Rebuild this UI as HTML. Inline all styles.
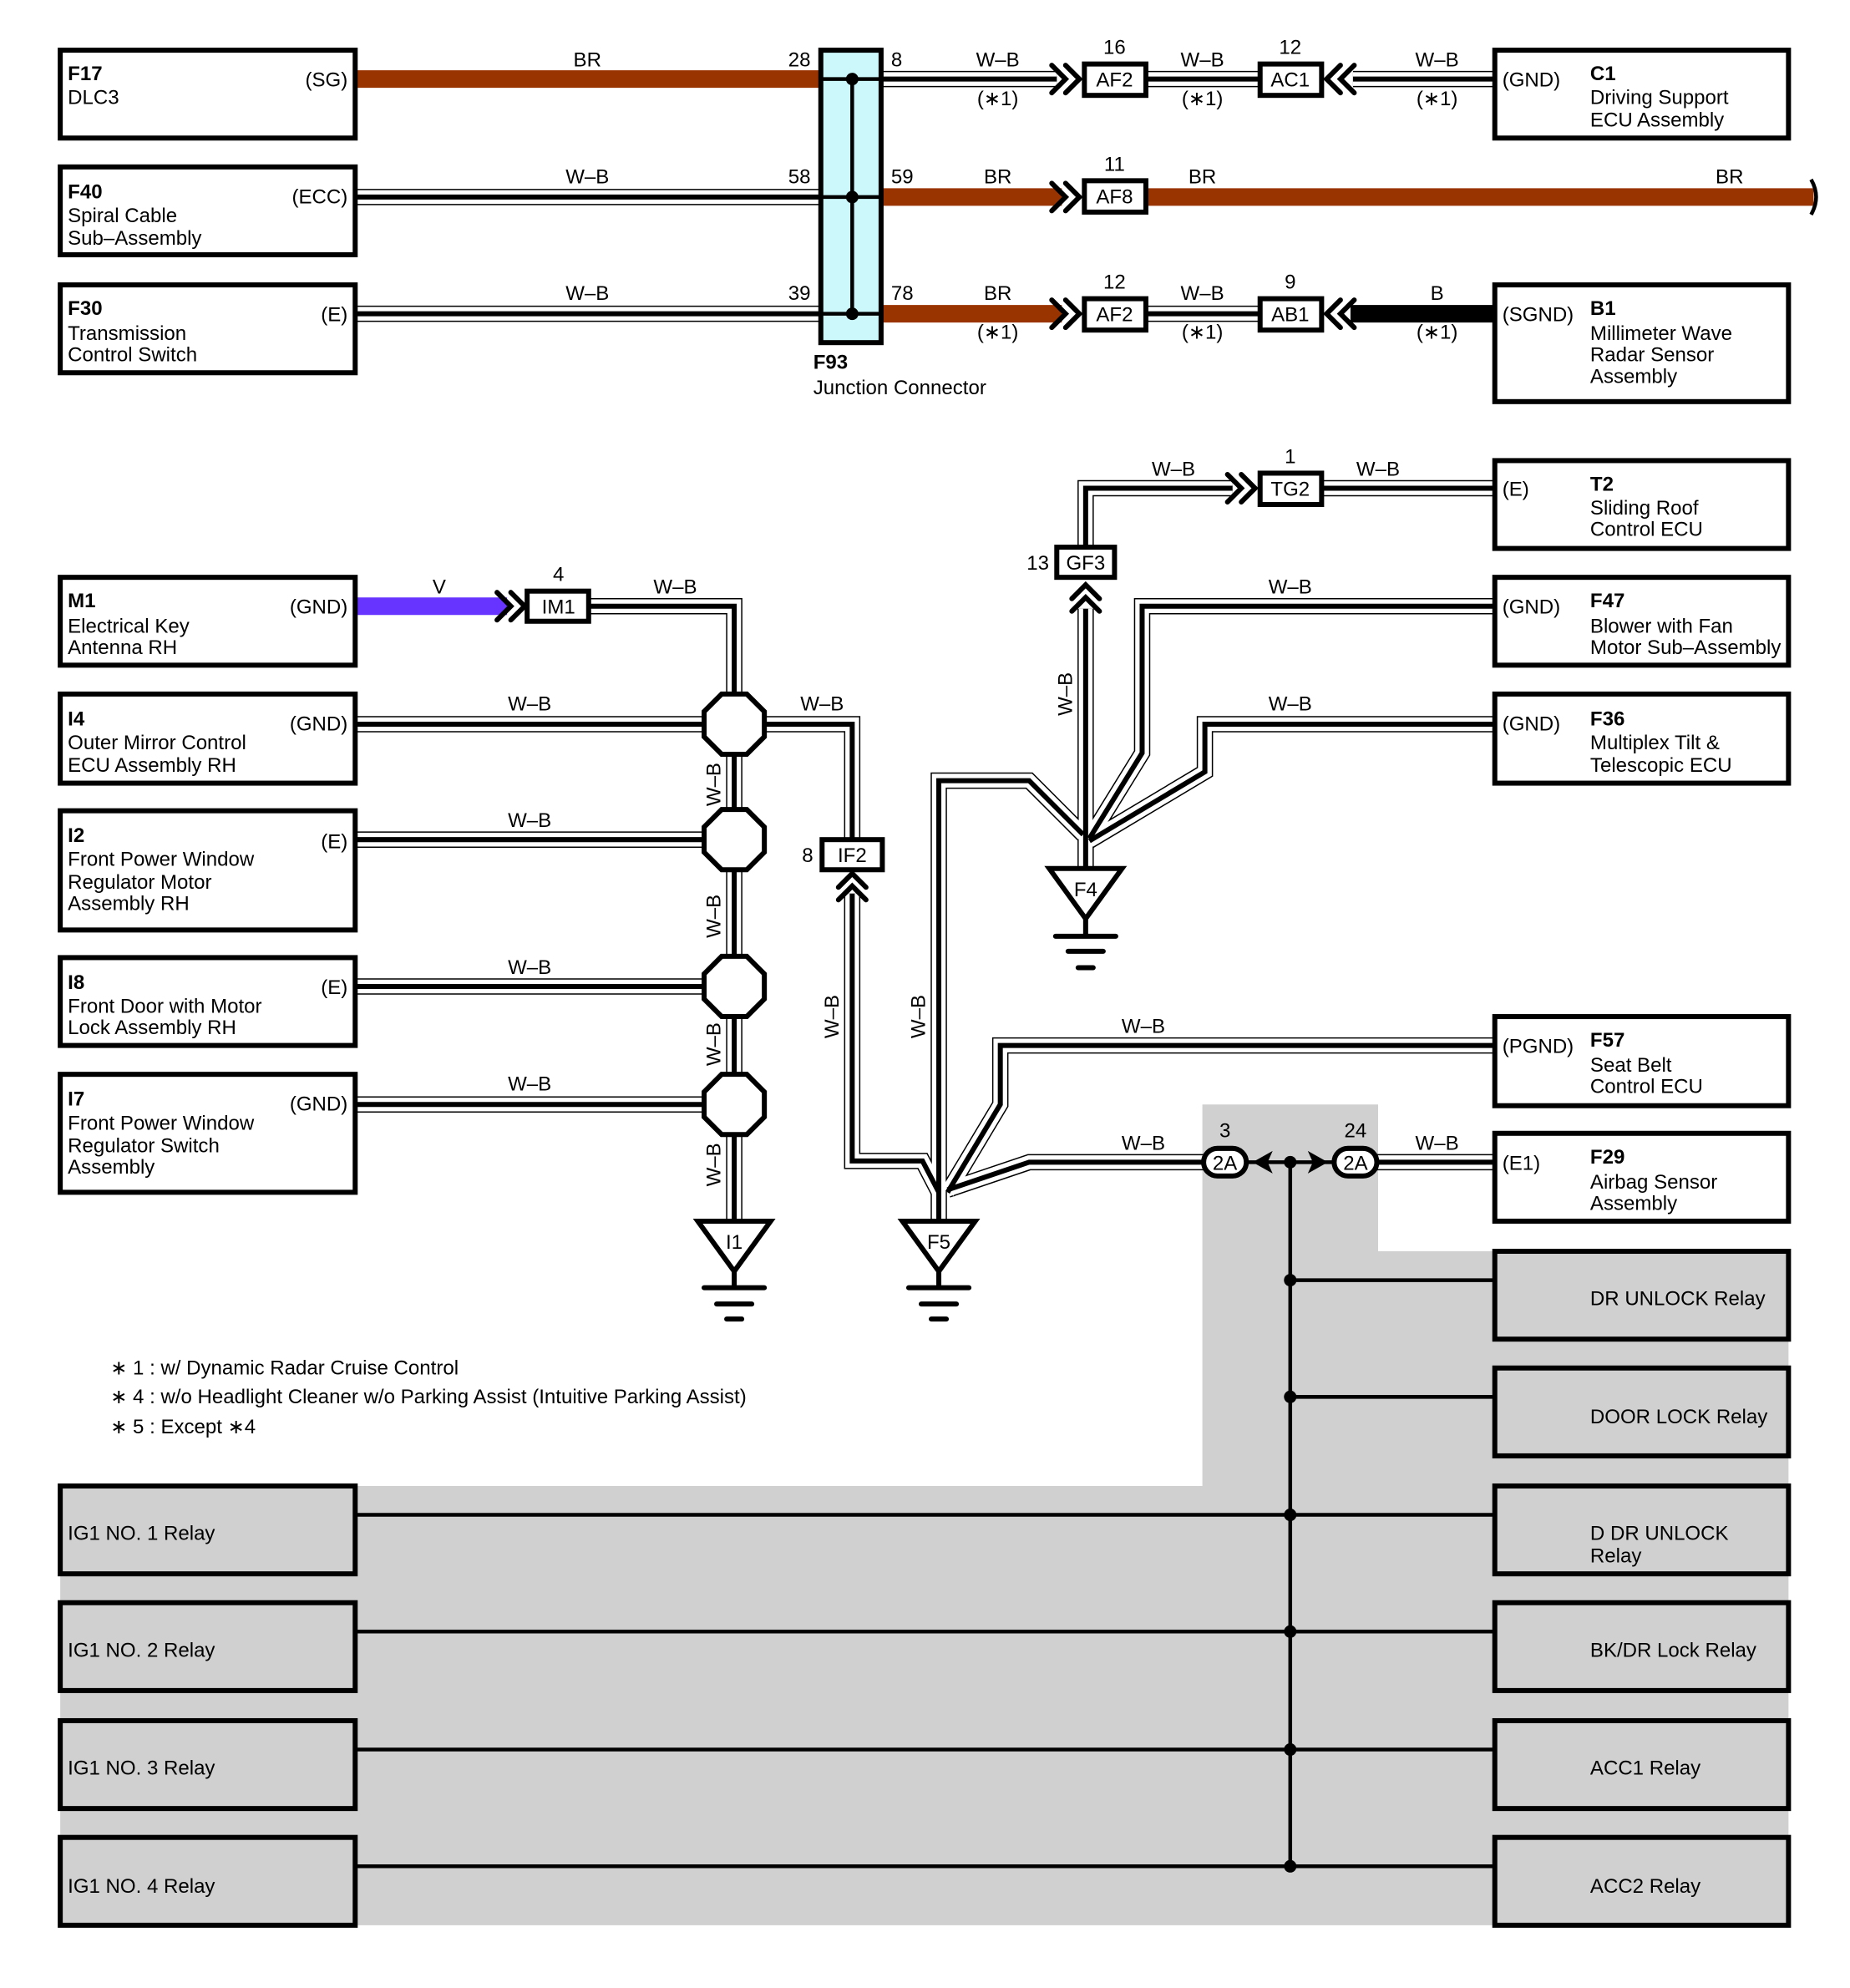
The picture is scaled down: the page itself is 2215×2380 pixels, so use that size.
<!DOCTYPE html>
<html><head><meta charset="utf-8"><style>
html,body{margin:0;padding:0;background:#fff}
svg{display:block}
text{font-family:"Liberation Sans",Arial,sans-serif;font-size:16px;fill:#000}
.b{font-weight:bold}
</style></head><body>
<svg width="2215" height="2380" viewBox="0 0 1474 1584" preserveAspectRatio="none" xmlns="http://www.w3.org/2000/svg">
<defs>
<g id="wbs" fill="none">
<path d="M283,157 H654 M283,250 H654 M702,63 H842 M913,63 H1004 M1078,63 H1191 M913,250 H1004"/>
<path d="M865,436 V389 H982 M1053,389 H1191 M865,485 V692"/>
<path d="M1191,483 H910 V600 L868,668 M1191,577 H960 V615 L868,670"/>
<path d="M748,973 V622 H820 L863,665"/>
<path d="M470,483 H585 V973"/>
<path d="M283,577 H562 M283,669 H562 M283,786 H562 M283,880 H562"/>
<path d="M608,577 H679 V669 M679,712 V925 H735 L748,950"/>
<path d="M1191,833 H797 V880 L755,950 M960,926 H820 L755,948 M1097,926 H1191"/>
</g>
</defs>
<!-- gray region -->
<polygon points="958,880 1098,880 1098,997 1425,997 1425,1534 48,1534 48,1184 958,1184" fill="#d0d0d0"/>

<!-- W-B wires -->
<use href="#wbs" stroke="#000" stroke-width="13"/>
<use href="#wbs" stroke="#fff" stroke-width="11"/>
<use href="#wbs" stroke="#000" stroke-width="4"/>

<!-- BR, V, B wires -->
<g fill="none" stroke-width="14">
<path d="M283,63 H654 M702,157 H846 M913,157 H1445 M702,250 H846" stroke="#993300"/>
<path d="M283,483 H404" stroke="#6633ff"/>
<path d="M1076,250 H1191" stroke="#000"/>
</g>
<path d="M1443,143 q8,14 0,28" fill="none" stroke="#000" stroke-width="3"/>

<!-- F93 junction -->
<rect x="654" y="40" width="48" height="233" fill="#ccf8fc" stroke="#000" stroke-width="4"/>
<line x1="679" y1="63" x2="679" y2="250" stroke="#000" stroke-width="3"/>
<line x1="654" y1="63" x2="702" y2="63" stroke="#000" stroke-width="3"/>
<line x1="654" y1="157" x2="702" y2="157" stroke="#000" stroke-width="3"/>
<line x1="654" y1="250" x2="702" y2="250" stroke="#000" stroke-width="3"/>
<circle cx="679" cy="63" r="5"/><circle cx="679" cy="157" r="5"/><circle cx="679" cy="250" r="5"/>

<!-- chevrons -->
<g fill="none" stroke="#000" stroke-width="4" stroke-linecap="round">
<path d="M838,52 L849,63 L838,74 M849,52 L860,63 L849,74"/>
<path d="M838,146 L849,157 L838,168 M849,146 L860,157 L849,168"/>
<path d="M838,239 L849,250 L838,261 M849,239 L860,250 L849,261"/>
<path d="M1068,52 L1057,63 L1068,74 M1079,52 L1068,63 L1079,74"/>
<path d="M1068,239 L1057,250 L1068,261 M1079,239 L1068,250 L1079,261"/>
<path d="M978,378 L989,389 L978,400 M989,378 L1000,389 L989,400"/>
<path d="M396,472 L407,483 L396,494 M407,472 L418,483 L407,494"/>
<path d="M854,477 L865,466 L876,477 M854,487 L865,476 L876,487"/>
<path d="M668,707 L679,696 L690,707 M668,717 L679,706 L690,717"/>
</g>

<!-- connector boxes -->
<g fill="#fff" stroke="#000" stroke-width="4">
<rect x="864" y="51" width="49" height="25"/>
<rect x="1004" y="51" width="49" height="25"/>
<rect x="864" y="144" width="49" height="25"/>
<rect x="864" y="238" width="49" height="25"/>
<rect x="1004" y="238" width="49" height="25"/>
<rect x="1004" y="377" width="49" height="25"/>
<rect x="842" y="436" width="46" height="24"/>
<rect x="420" y="471" width="49" height="24"/>
<rect x="655" y="669" width="48" height="24"/>
</g>
<g text-anchor="middle">
<text x="888" y="69">AF2</text><text x="888" y="43">16</text>
<text x="1028" y="69">AC1</text><text x="1028" y="43">12</text>
<text x="888" y="162">AF8</text><text x="888" y="136">11</text>
<text x="888" y="256">AF2</text><text x="888" y="230">12</text>
<text x="1028" y="256">AB1</text><text x="1028" y="230">9</text>
<text x="1028" y="395">TG2</text><text x="1028" y="369">1</text>
<text x="865" y="454">GF3</text>
<text x="445" y="489">IM1</text><text x="445" y="463">4</text>
<text x="679" y="687">IF2</text>
</g>
<text x="818" y="454">13</text>
<text x="639" y="687">8</text>

<!-- splices -->
<g fill="#fff" stroke="#000" stroke-width="4">
<polygon points="575,553 595,553 609,567 609,587 595,601 575,601 561,587 561,567"/>
<polygon points="575,645 595,645 609,659 609,679 595,693 575,693 561,679 561,659"/>
<polygon points="575,762 595,762 609,776 609,796 595,810 575,810 561,796 561,776"/>
<polygon points="575,856 595,856 609,870 609,890 595,904 575,904 561,890 561,870"/>
</g>

<!-- grounds -->
<g stroke="#000" stroke-width="4" fill="#fff">
<polygon points="556,973 614,973 585,1013"/>
<polygon points="719,973 777,973 748,1013"/>
<polygon points="836,692 894,692 865,732"/>
</g>
<g stroke="#000" stroke-width="4" stroke-linecap="round">
<path d="M585,1013 V1026 M561,1026 H609 M571,1039 H599 M579,1051 H591"/>
<path d="M748,1013 V1026 M724,1026 H772 M734,1039 H762 M742,1051 H754"/>
<path d="M865,732 V746 M841,746 H889 M851,758 H879 M859,771 H871"/>
</g>
<g text-anchor="middle"><text x="585" y="995">I1</text><text x="748" y="995">F5</text><text x="865" y="714">F4</text></g>

<!-- 2A connectors and bus -->
<g stroke="#000" stroke-width="3">
<line x1="990" y1="926" x2="1066" y2="926"/>
<line x1="1028" y1="926" x2="1028" y2="1487"/>
<line x1="1028" y1="1020" x2="1191" y2="1020"/>
<line x1="1028" y1="1113" x2="1191" y2="1113"/>
<line x1="283" y1="1207" x2="1191" y2="1207"/>
<line x1="283" y1="1300" x2="1191" y2="1300"/>
<line x1="283" y1="1394" x2="1191" y2="1394"/>
<line x1="283" y1="1487" x2="1191" y2="1487"/>
</g>
<g fill="#000">
<circle cx="1028" cy="926" r="5"/><circle cx="1028" cy="1020" r="5"/><circle cx="1028" cy="1113" r="5"/>
<circle cx="1028" cy="1207" r="5"/><circle cx="1028" cy="1300" r="5"/><circle cx="1028" cy="1394" r="5"/><circle cx="1028" cy="1487" r="5"/>
<polygon points="998,926 1014,917 1010,926 1014,935"/>
<polygon points="1058,926 1042,917 1046,926 1042,935"/>
</g>
<g fill="#fff" stroke="#000" stroke-width="4">
<rect x="959" y="915" width="34" height="22" rx="11"/>
<rect x="1063" y="915" width="34" height="22" rx="11"/>
</g>
<g text-anchor="middle"><text x="976" y="932">2A</text><text x="1080" y="932">2A</text><text x="976" y="906">3</text><text x="1080" y="906">24</text></g>

<!-- component boxes -->
<g fill="#fff" stroke="#000" stroke-width="4">
<rect x="48" y="40" width="235" height="70"/>
<rect x="48" y="133" width="235" height="70"/>
<rect x="48" y="227" width="235" height="70"/>
<rect x="48" y="460" width="235" height="70"/>
<rect x="48" y="553" width="235" height="71"/>
<rect x="48" y="646" width="235" height="95"/>
<rect x="48" y="763" width="235" height="70"/>
<rect x="48" y="856" width="235" height="94"/>
<rect x="1191" y="40" width="234" height="70"/>
<rect x="1191" y="227" width="234" height="93"/>
<rect x="1191" y="367" width="234" height="70"/>
<rect x="1191" y="460" width="234" height="70"/>
<rect x="1191" y="553" width="234" height="71"/>
<rect x="1191" y="810" width="234" height="71"/>
<rect x="1191" y="903" width="234" height="70"/>
</g>
<g fill="#d0d0d0" stroke="#000" stroke-width="4">
<rect x="48" y="1184" width="235" height="70"/>
<rect x="48" y="1277" width="235" height="70"/>
<rect x="48" y="1371" width="235" height="70"/>
<rect x="48" y="1464" width="235" height="70"/>
<rect x="1191" y="997" width="234" height="70"/>
<rect x="1191" y="1090" width="234" height="70"/>
<rect x="1191" y="1184" width="234" height="70"/>
<rect x="1191" y="1277" width="234" height="70"/>
<rect x="1191" y="1371" width="234" height="70"/>
<rect x="1191" y="1464" width="234" height="70"/>
</g>

<!-- left box text -->
<text x="54" y="64" class="b">F17</text><text x="54" y="83">DLC3</text>
<text x="54" y="158" class="b">F40</text><text x="54" y="177">Spiral Cable</text><text x="54" y="195">Sub–Assembly</text>
<text x="54" y="251" class="b">F30</text><text x="54" y="271">Transmission</text><text x="54" y="288">Control Switch</text>
<text x="54" y="484" class="b">M1</text><text x="54" y="504">Electrical Key</text><text x="54" y="521">Antenna RH</text>
<text x="54" y="578" class="b">I4</text><text x="54" y="597">Outer Mirror Control</text><text x="54" y="615">ECU Assembly RH</text>
<text x="54" y="671" class="b">I2</text><text x="54" y="690">Front Power Window</text><text x="54" y="708">Regulator Motor</text><text x="54" y="725">Assembly RH</text>
<text x="54" y="788" class="b">I8</text><text x="54" y="807">Front Door with Motor</text><text x="54" y="824">Lock Assembly RH</text>
<text x="54" y="881" class="b">I7</text><text x="54" y="900">Front Power Window</text><text x="54" y="918">Regulator Switch</text><text x="54" y="935">Assembly</text>
<text x="54" y="1227">IG1 NO. 1 Relay</text>
<text x="54" y="1320">IG1 NO. 2 Relay</text>
<text x="54" y="1414">IG1 NO. 3 Relay</text>
<text x="54" y="1508">IG1 NO. 4 Relay</text>
<g text-anchor="end">
<text x="277" y="69">(SG)</text><text x="277" y="162">(ECC)</text><text x="277" y="256">(E)</text>
<text x="277" y="489">(GND)</text><text x="277" y="582">(GND)</text><text x="277" y="676">(E)</text>
<text x="277" y="792">(E)</text><text x="277" y="885">(GND)</text>
</g>

<!-- right box text -->
<text x="1197" y="69">(GND)</text><text x="1267" y="64" class="b">C1</text><text x="1267" y="83">Driving Support</text><text x="1267" y="101">ECU Assembly</text>
<text x="1197" y="256">(SGND)</text><text x="1267" y="251" class="b">B1</text><text x="1267" y="271">Millimeter Wave</text><text x="1267" y="288">Radar Sensor</text><text x="1267" y="305">Assembly</text>
<text x="1197" y="395">(E)</text><text x="1267" y="391" class="b">T2</text><text x="1267" y="410">Sliding Roof</text><text x="1267" y="427">Control ECU</text>
<text x="1197" y="489">(GND)</text><text x="1267" y="484" class="b">F47</text><text x="1267" y="504">Blower with Fan</text><text x="1267" y="521">Motor Sub–Assembly</text>
<text x="1197" y="582">(GND)</text><text x="1267" y="578" class="b">F36</text><text x="1267" y="597">Multiplex Tilt &amp;</text><text x="1267" y="615">Telescopic ECU</text>
<text x="1197" y="839">(PGND)</text><text x="1267" y="834" class="b">F57</text><text x="1267" y="854">Seat Belt</text><text x="1267" y="871">Control ECU</text>
<text x="1197" y="932">(E1)</text><text x="1267" y="927" class="b">F29</text><text x="1267" y="947">Airbag Sensor</text><text x="1267" y="964">Assembly</text>
<text x="1267" y="1040">DR UNLOCK Relay</text>
<text x="1267" y="1134">DOOR LOCK Relay</text>
<text x="1267" y="1227">D DR UNLOCK</text><text x="1267" y="1245">Relay</text>
<text x="1267" y="1320">BK/DR Lock Relay</text>
<text x="1267" y="1414">ACC1 Relay</text>
<text x="1267" y="1508">ACC2 Relay</text>

<!-- F93 labels -->
<text x="628" y="53">28</text><text x="628" y="146">58</text><text x="628" y="239">39</text>
<text x="710" y="53">8</text><text x="710" y="146">59</text><text x="710" y="239">78</text>
<text x="648" y="294" class="b">F93</text><text x="648" y="314">Junction Connector</text>

<!-- wire labels -->
<g text-anchor="middle">
<text x="468" y="53">BR</text><text x="468" y="146">W–B</text><text x="468" y="239">W–B</text>
<text x="795" y="53">W–B</text><text x="795" y="84">(∗1)</text>
<text x="958" y="53">W–B</text><text x="958" y="84">(∗1)</text>
<text x="1145" y="53">W–B</text><text x="1145" y="84">(∗1)</text>
<text x="795" y="146">BR</text><text x="958" y="146">BR</text><text x="1378" y="146">BR</text>
<text x="795" y="239">BR</text><text x="795" y="270">(∗1)</text>
<text x="958" y="239">W–B</text><text x="958" y="270">(∗1)</text>
<text x="1145" y="239">B</text><text x="1145" y="270">(∗1)</text>
<text x="935" y="379">W–B</text><text x="1098" y="379">W–B</text>
<text x="1028" y="473">W–B</text><text x="1028" y="566">W–B</text>
<text x="350" y="473">V</text><text x="538" y="473">W–B</text>
<text x="422" y="566">W–B</text><text x="655" y="566">W–B</text>
<text x="422" y="659">W–B</text><text x="422" y="776">W–B</text><text x="422" y="869">W–B</text>
<text x="911" y="823">W–B</text><text x="911" y="916">W–B</text><text x="1145" y="916">W–B</text>
<text transform="translate(574,625) rotate(-90)">W–B</text>
<text transform="translate(574,730) rotate(-90)">W–B</text>
<text transform="translate(574,832) rotate(-90)">W–B</text>
<text transform="translate(574,928) rotate(-90)">W–B</text>
<text transform="translate(668,810) rotate(-90)">W–B</text>
<text transform="translate(737,810) rotate(-90)">W–B</text>
<text transform="translate(854,553) rotate(-90)">W–B</text>
</g>

<!-- footnotes -->
<text x="88" y="1095">∗ 1 : w/ Dynamic Radar Cruise Control</text>
<text x="88" y="1118">∗ 4 : w/o Headlight Cleaner w/o Parking Assist (Intuitive Parking Assist)</text>
<text x="88" y="1142">∗ 5 : Except ∗4</text>
</svg>
</body></html>
